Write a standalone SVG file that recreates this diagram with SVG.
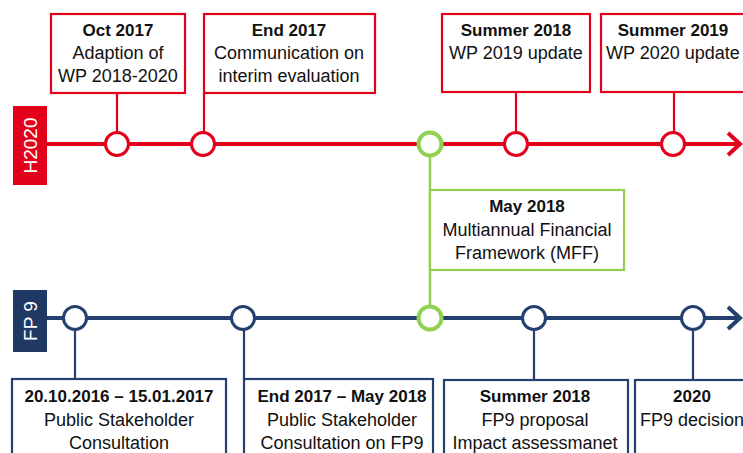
<svg xmlns="http://www.w3.org/2000/svg" width="743" height="453" viewBox="0 0 743 453">
<style>
.t{font-family:"Liberation Sans",Arial,sans-serif;font-size:18px;fill:#111;text-anchor:middle}
.b{font-weight:bold;font-size:17px}
.rbox{fill:#fff;stroke:#E2001A;stroke-width:2.2}
.bbox{fill:#fff;stroke:#24406E;stroke-width:2.2}
.gbox{fill:#fff;stroke:#92D050;stroke-width:2.2}
.rc{fill:#fff;stroke:#E2001A;stroke-width:3}
.bc{fill:#fff;stroke:#24406E;stroke-width:3}
.gc{fill:#fff;stroke:#92D050;stroke-width:4}
.rl{stroke:#E2001A;stroke-width:2.2;fill:none}
.bl{stroke:#24406E;stroke-width:2.2;fill:none}
.gl{stroke:#92D050;stroke-width:2.5;fill:none}
.lab{font-family:"Liberation Sans",Arial,sans-serif;font-size:19px;fill:#fff;text-anchor:middle}
</style>
<rect width="743" height="453" fill="#fff"/>
<g id="connectors">
<line x1="46" y1="144" x2="739" y2="144" stroke="#E2001A" stroke-width="4"/>
<polyline points="728,133 740,144 728,155" stroke="#E2001A" stroke-width="4" fill="none"/>
<line x1="47" y1="318" x2="739" y2="318" stroke="#24406E" stroke-width="4"/>
<polyline points="728,307 740,318 728,329" stroke="#24406E" stroke-width="4" fill="none"/>
<line class="rl" x1="117" y1="93" x2="117" y2="132"/>
<line class="rl" x1="204" y1="93" x2="204" y2="132"/>
<line class="rl" x1="516" y1="92" x2="516" y2="132"/>
<line class="rl" x1="674" y1="92" x2="674" y2="132"/>
<line class="gl" x1="430" y1="156" x2="430" y2="306"/>
<line class="bl" x1="75" y1="330" x2="75" y2="379"/>
<line class="bl" x1="244" y1="330" x2="244" y2="379"/>
<line class="bl" x1="534" y1="330" x2="534" y2="380"/>
<line class="bl" x1="693" y1="330" x2="693" y2="380"/>
</g>
<g id="label-h2020">
<rect x="13" y="106" width="34" height="79" fill="#E2001A"/>
<text class="lab" transform="translate(36.5,145.5) rotate(-90)">H2020</text>
</g>
<g id="label-fp9">
<rect x="13" y="290" width="34" height="62" fill="#1F3864"/>
<text class="lab" transform="translate(36.5,321) rotate(-90)">FP 9</text>
</g>
<g id="c-r1"><circle class="rc" cx="117" cy="144" r="11.5"/></g>
<g id="c-r2"><circle class="rc" cx="203" cy="144" r="11.5"/></g>
<g id="c-r3"><circle class="rc" cx="516" cy="144" r="11.5"/></g>
<g id="c-r4"><circle class="rc" cx="673" cy="144" r="11.5"/></g>
<g id="c-g1"><circle class="gc" cx="430" cy="144" r="11.5"/></g>
<g id="c-g2"><circle class="gc" cx="430" cy="318" r="11.5"/></g>
<g id="c-b1"><circle class="bc" cx="75" cy="318" r="11.5"/></g>
<g id="c-b2"><circle class="bc" cx="243" cy="318" r="11.5"/></g>
<g id="c-b3"><circle class="bc" cx="534" cy="318" r="11.5"/></g>
<g id="c-b4"><circle class="bc" cx="693" cy="318" r="11.5"/></g>
<g id="box-oct2017">
<rect class="rbox" x="51" y="14" width="134" height="79"/>
<text class="t b" x="118" y="36">Oct 2017</text>
<text class="t" x="118" y="59">Adaption of</text>
<text class="t" x="118" y="82">WP 2018-2020</text>
</g>
<g id="box-end2017">
<rect class="rbox" x="204" y="14" width="171" height="79"/>
<text class="t b" x="289" y="36">End 2017</text>
<text class="t" x="289" y="59">Communication on</text>
<text class="t" x="289" y="82">interim evaluation</text>
</g>
<g id="box-summer2018">
<rect class="rbox" x="442" y="14" width="148" height="78"/>
<text class="t b" x="516" y="36">Summer 2018</text>
<text class="t" x="516" y="59">WP 2019 update</text>
</g>
<g id="box-summer2019">
<rect class="rbox" x="601" y="14" width="150" height="78"/>
<text class="t b" x="673" y="36">Summer 2019</text>
<text class="t" x="673" y="59">WP 2020 update</text>
</g>
<g id="box-may2018">
<rect class="gbox" x="430" y="190" width="194" height="80"/>
<text class="t b" x="527" y="212">May 2018</text>
<text class="t" x="527" y="236">Multiannual Financial</text>
<text class="t" x="527" y="259">Framework (MFF)</text>
</g>
<g id="box-consult1">
<rect class="bbox" x="12" y="379" width="214" height="80"/>
<text class="t b" x="119" y="402">20.10.2016 – 15.01.2017</text>
<text class="t" x="119" y="426">Public Stakeholder</text>
<text class="t" x="119" y="449">Consultation</text>
</g>
<g id="box-consult2">
<rect class="bbox" x="244" y="379" width="189" height="80"/>
<text class="t b" x="342" y="402">End 2017 – May 2018</text>
<text class="t" x="342" y="426">Public  Stakeholder</text>
<text class="t" x="342" y="449">Consultation on FP9</text>
</g>
<g id="box-proposal">
<rect class="bbox" x="444" y="380" width="184" height="80"/>
<text class="t b" x="535" y="402">Summer 2018</text>
<text class="t" x="535" y="426">FP9 proposal</text>
<text class="t" x="535" y="449">Impact assessmanet</text>
</g>
<g id="box-decision">
<rect class="bbox" x="635" y="380" width="120" height="80"/>
<text class="t b" x="692" y="402">2020</text>
<text class="t" x="692" y="426">FP9 decision</text>
</g>
</svg>
